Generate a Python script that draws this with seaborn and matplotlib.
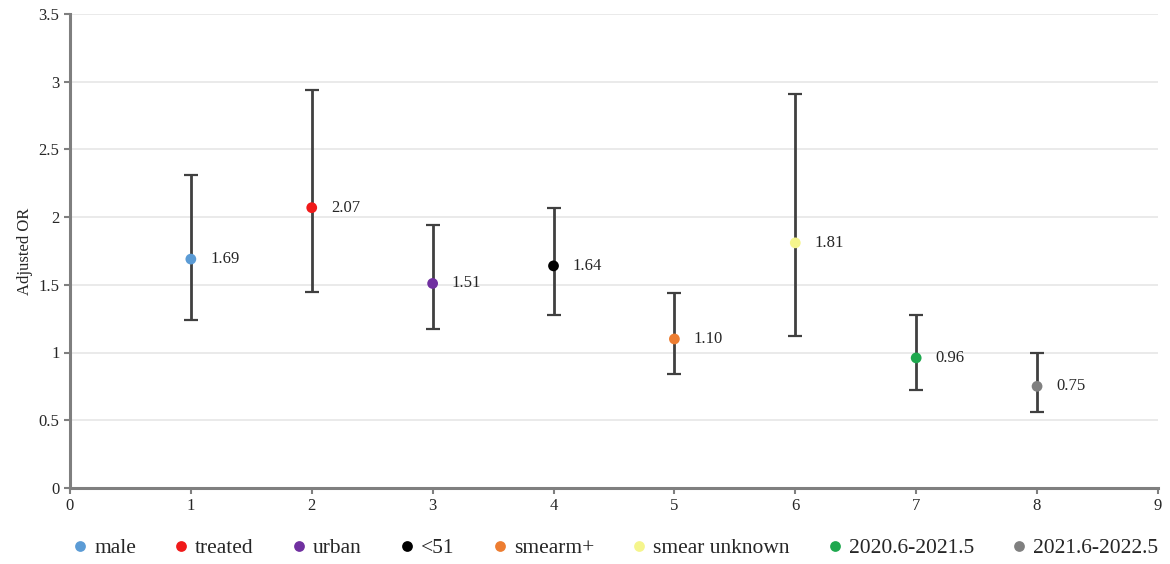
import seaborn as sns
import matplotlib.pyplot as plt
import pandas as pd

# Datos
labels = ['male', 'treated', 'urban', '<51', 'smearm+', 'smear unknown',
          '2020.6-2021.5', '2021.6-2022.5']
positions = [1, 2, 3, 4, 5, 6, 7, 8]
odds = [1.69, 2.07, 1.51, 1.64, 1.10, 1.81, 0.96, 0.75]
ci_low = [1.24, 1.45, 1.17, 1.28, 0.84, 1.12, 0.72, 0.56]
ci_high = [2.31, 2.94, 1.94, 2.07, 1.44, 2.91, 1.28, 1.00]
colors = ['#5B9BD5', '#F01A1A', '#7030A0', '#000000', '#ED7D31', '#F5F58C',
          '#1EA84E', '#808080']

df = pd.DataFrame({'Position': positions, 'OR': odds, 'Group': labels,
                   'low': ci_low, 'high': ci_high})

sns.set_style('white')
plt.rcParams['font.family'] = ['Liberation Serif', 'DejaVu Serif']

fig = plt.figure(figsize=(11.7, 5.64), dpi=100)
ax = fig.add_axes([0.0598, 0.135, 0.9299, 0.84])

# Barras de error
ax.errorbar(df['Position'], df['OR'],
            yerr=[df['OR'] - df['low'], df['high'] - df['OR']],
            fmt='none', ecolor='#404040', elinewidth=2, capsize=5,
            capthick=1.6, zorder=2)

sns.scatterplot(data=df, x='Position', y='OR', hue='Group',
                palette=dict(zip(labels, colors)), s=60, edgecolor='none',
                zorder=3, ax=ax)

for x, y in zip(df['Position'], df['OR']):
    ax.text(x + 0.16, y, f'{y:.2f}', va='center', ha='left', fontsize=12)

ax.set_xlim(0, 9)
ax.set_ylim(0, 3.5)
ax.set_xticks(range(0, 10))
ax.set_yticks([0, 0.5, 1, 1.5, 2, 2.5, 3, 3.5])
ax.set_yticklabels(['0', '0.5', '1', '1.5', '2', '2.5', '3', '3.5'])
ax.yaxis.grid(True, color='#E6E6E6', linewidth=1.2)
ax.set_axisbelow(True)
ax.set_xlabel('')
ax.set_ylabel('Adjusted OR', fontsize=12)
ax.tick_params(axis='both', labelsize=12, length=4, width=1.5,
               color='#7F7F7F', direction='out', bottom=True, left=True)
for side in ['top', 'right']:
    ax.spines[side].set_visible(False)
for side in ['left', 'bottom']:
    ax.spines[side].set_color('#7F7F7F')
    ax.spines[side].set_linewidth(2.2)

sns.move_legend(ax, 'lower center', bbox_to_anchor=(0.50, -0.19), ncol=8,
                frameon=False, title=None, fontsize=15.5, handletextpad=0.15,
                handlelength=1.0, columnspacing=1.6, markerscale=1.0)

plt.savefig('out.png', dpi=100)
